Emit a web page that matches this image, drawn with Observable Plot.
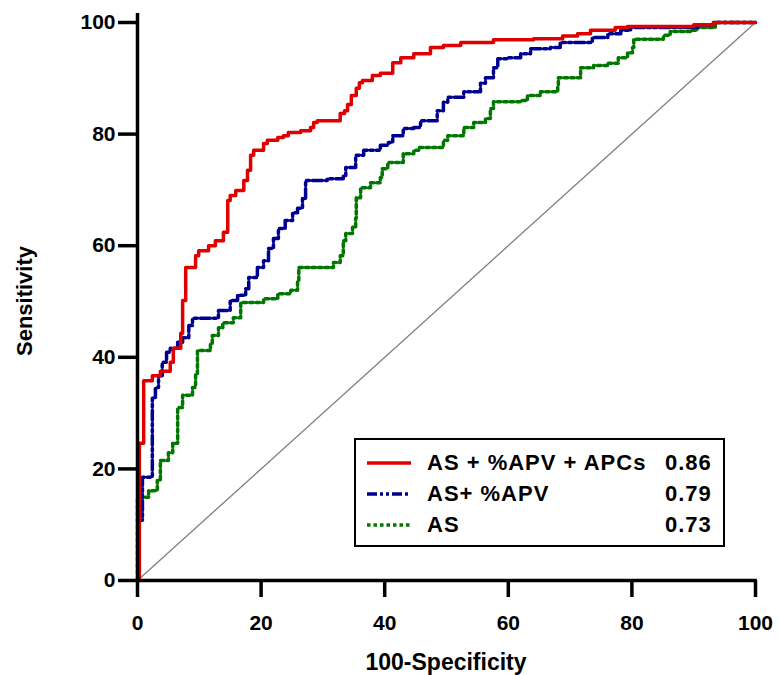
<!DOCTYPE html>
<html>
<head>
<meta charset="utf-8">
<script src="https://cdn.jsdelivr.net/npm/d3@7"></script>
<script src="https://cdn.jsdelivr.net/npm/@observablehq/plot@0.6"></script>
<style>
  html, body { margin: 0; padding: 0; background: #fff; }
  #wrap { position: relative; width: 780px; height: 675px; overflow: hidden; font-family: "Liberation Sans", Arial, sans-serif; font-weight: bold; color: #000; }
  #wrap svg text { font-weight: bold; }
  .abs { position: absolute; white-space: nowrap; line-height: 1; }
</style>
</head>
<body>
<div id="wrap"></div>
<script>
// ---- data ----
const seriesNames = ["AS + %APV + APCs", "AS+ %APV", "AS"];
const aucValues = ["0.86", "0.79", "0.73"];
const seriesColors = ["#e00000", "#000090", "#007800"];
const seriesDash = [null, "10,3,3,3,3,3", "3.5,3"];

const fprRed = [0,0.3,1.0,2.4,3.7,5.3,5.8,7.0,7.3,7.8,9.4,9.9,11.5,12.6,13.9,14.6,15.0,15.9,17.2,17.8,18.3,18.8,20.4,21.0,22.7,23.6,24.4,26.4,28.0,28.5,29.1,32.8,33.5,34.0,34.6,35.4,35.9,36.4,38.0,39.3,41.3,42.6,44.7,47.4,49.5,52.3,57.6,64.1,68.8,71.2,73.3,77.3,79.3,90.0,93.2,100];
const tprRed = [0,24.6,35.8,36.7,37.5,39.1,41.6,44.3,50.2,56.1,58.2,59.1,60.0,60.9,62.4,68.1,69.0,69.9,71.7,73.5,76.2,77.1,78.3,78.9,79.4,79.7,80.3,80.6,81.2,82.1,82.4,83.7,84.2,85.3,86.9,88.2,89.2,89.6,90.5,90.9,92.8,93.7,94.4,95.5,95.9,96.4,96.9,97.1,97.6,98.0,98.6,99.1,99.3,99.6,100,100];

const fprBlue = [0,0.2,0.8,2.4,2.9,3.4,4.0,4.7,5.3,6.5,7.3,8.3,8.9,11.8,13.1,15.0,16.2,17.5,18.0,19.4,20.4,21.2,22.0,22.8,23.9,25.1,25.9,26.7,27.2,30.7,33.3,33.7,35.3,36.6,39.3,40.6,41.3,43.0,44.7,45.8,48.5,49.5,50.2,52.8,54.4,55.5,56.3,57.6,58.3,59.9,62.0,63.6,66.8,68.4,72.8,73.6,76.1,78.2,79.8,90.0,90.6,93.2,100];
const tprBlue = [0,10.8,18.5,32.8,34.6,36.7,39.1,40.9,41.6,42.7,43.5,45.7,47.0,47.0,48.4,50.2,51.1,52.3,54.3,56.1,57.3,59.5,61.3,63.1,64.5,65.9,66.7,68.5,71.7,72.0,72.6,74.0,76.2,77.1,78.0,78.5,79.7,81.0,81.2,82.4,84.2,85.7,86.6,87.6,87.6,89.1,90.1,91.9,93.5,93.7,94.4,95.3,95.5,96.4,96.4,97.3,98.0,98.6,99.1,99.1,99.6,100,100];

const fprGreen = [0,0,1.8,3.2,3.7,5.0,5.7,6.5,7.3,8.9,9.4,9.7,11.8,12.1,13.1,13.8,15.5,16.7,18.8,20.4,22.7,24.8,25.9,26.1,31.7,32.8,33.3,33.7,34.8,35.3,35.4,36.1,37.7,39.3,39.6,40.5,43.0,44.7,45.5,47.9,49.5,50.2,52.3,52.8,54.4,56.3,57.1,57.6,60.8,62.0,63.1,65.2,68.0,68.1,71.7,73.8,76.1,77.8,79.3,80.1,80.3,85.1,86.2,89.5,90.6,92.7,93.5,100];
const tprGreen = [0,14.9,16.1,17.9,21.5,22.9,24.6,31.0,33.2,34.6,37.1,41.2,42.5,43.9,45.3,46.2,47.1,49.8,49.8,50.5,51.4,52.0,53.8,56.1,57.0,58.2,60.9,62.2,63.3,64.9,68.6,70.4,71.3,72.2,73.8,74.9,76.5,77.1,77.6,77.6,78.9,79.7,79.7,81.2,82.1,82.8,84.6,85.8,85.8,86.0,86.9,87.6,88.4,90.1,91.9,92.3,92.7,93.7,94.6,95.5,97.0,97.7,98.4,98.6,99.1,99.1,100,100];

const xTicks = [0, 20, 40, 60, 80, 100];
const yTicks = [0, 20, 40, 60, 80, 100];
const xTitle = "100-Specificity";
const yTitle = "Sensitivity";
const diagonal = [[0, 0], [100, 100]];

// ---- build ----
const toPts = (xs, ys) => xs.map((x, i) => ({x, y: ys[i]}));
const red = toPts(fprRed, tprRed);
const blue = toPts(fprBlue, tprBlue);
const green = toPts(fprGreen, tprGreen);

const chart = Plot.plot({
  width: 780,
  height: 675,
  marginLeft: 137,
  marginRight: 25,
  marginTop: 22,
  marginBottom: 95,
  x: {domain: [0, 100]},
  y: {domain: [0, 100]},
  style: {fontFamily: "'Liberation Sans', Arial, sans-serif", fontWeight: "bold", color: "#000", background: "#fff", overflow: "visible"},
  marks: [
    Plot.line(diagonal, {x: d => d[0], y: d => d[1], stroke: "#808080", strokeWidth: 1.3}),
    Plot.line(green, {x: "x", y: "y", curve: "step-after", stroke: seriesColors[2], strokeWidth: 3.5, strokeDasharray: seriesDash[2]}),
    Plot.line(blue, {x: "x", y: "y", curve: "step-after", stroke: seriesColors[1], strokeWidth: 3.5, strokeDasharray: seriesDash[1]}),
    Plot.line(red, {x: "x", y: "y", curve: "step-after", stroke: seriesColors[0], strokeWidth: 3.5}),
    Plot.ruleX([0], {y1: 0, y2: 101.6, stroke: "#000", strokeWidth: 3.5}),
    Plot.ruleY([0], {x1: 0, x2: 100.3, stroke: "#000", strokeWidth: 3.5}),
    Plot.axisX(xTicks, {tickSize: 17, tickPadding: 18, strokeWidth: 3.5, stroke: "#000", fontSize: 21, fontWeight: "bold", fill: "#000", label: null}),
    Plot.axisY(yTicks, {tickSize: 19, tickPadding: 3, strokeWidth: 3.5, stroke: "#000", fontSize: 21, fontWeight: "bold", fill: "#000", label: null})
  ]
});

const wrap = document.getElementById("wrap");
chart.style.position = "absolute";
chart.style.left = "0px";
chart.style.top = "0px";
wrap.appendChild(chart);

// axis titles
const xt = document.createElement("div");
xt.className = "abs";
xt.textContent = xTitle;
xt.style.cssText += "font-size:23px;left:446px;top:662px;transform:translate(-50%,-50%);";
wrap.appendChild(xt);

const yt = document.createElement("div");
yt.className = "abs";
yt.textContent = yTitle;
yt.style.cssText += "font-size:22px;left:25px;top:301px;transform:translate(-50%,-50%) rotate(-90deg);";
wrap.appendChild(yt);

// legend
const box = document.createElement("div");
box.className = "abs";
box.style.cssText += "left:354px;top:438px;width:367px;height:105px;border:2.5px solid #000;background:#fff;";
wrap.appendChild(box);

const rowY = [463, 494, 525];
seriesNames.forEach((name, i) => {
  const sw = document.createElementNS("http://www.w3.org/2000/svg", "svg");
  sw.setAttribute("width", "44");
  sw.setAttribute("height", "8");
  sw.style.cssText = `position:absolute;left:367px;top:${rowY[i] - 4}px;`;
  const ln = document.createElementNS("http://www.w3.org/2000/svg", "line");
  ln.setAttribute("x1", "0"); ln.setAttribute("x2", "44");
  ln.setAttribute("y1", "4"); ln.setAttribute("y2", "4");
  ln.setAttribute("stroke", seriesColors[i]);
  ln.setAttribute("stroke-width", "3.5");
  if (seriesDash[i]) ln.setAttribute("stroke-dasharray", seriesDash[i]);
  sw.appendChild(ln);
  wrap.appendChild(sw);

  const t = document.createElement("div");
  t.className = "abs";
  t.textContent = name;
  t.style.cssText += `font-size:22px;letter-spacing:1px;left:427px;top:${rowY[i]}px;transform:translateY(-50%);`;
  wrap.appendChild(t);

  const v = document.createElement("div");
  v.className = "abs";
  v.textContent = aucValues[i];
  v.style.cssText += `font-size:22px;letter-spacing:1px;left:665px;top:${rowY[i]}px;transform:translateY(-50%);`;
  wrap.appendChild(v);
});
</script>
</body>
</html>
